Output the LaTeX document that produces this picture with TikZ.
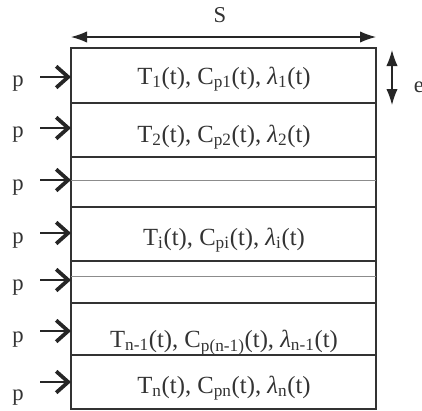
\documentclass[tikz,border=0pt]{standalone}
\usepackage{fontspec}
\setmainfont{Liberation Serif}
\usetikzlibrary{arrows.meta}
\tikzset{
  wall/.style={draw=black!80, line width=1pt},
  midline/.style={draw=black!45, line width=0.7pt},
  txt/.style={anchor=base, inner sep=0pt, text=black!80, font=\fontsize{18.5}{22}\selectfont},
  plbl/.style={anchor=base, inner sep=0pt, text=black!80, font=\fontsize{17}{20}\selectfont},
  parr/.style={draw=black!85, line width=0.9pt, -{Straight Barb[length=9pt, width=16pt, line width=2.8pt]}},
  dimarr/.style={draw=black!85, line width=0.9pt, {Latex[length=12pt, width=8.5pt]}-{Latex[length=12pt, width=8.5pt]}}
}
\begin{document}
\begin{tikzpicture}[x=0.75pt, y=-0.75pt]
\useasboundingbox (0,0) rectangle (422,411);
\draw[wall] (71,48) rectangle (376,409);
\foreach \y in {103,157,207,261,303,355} \draw[wall] (71,\y) -- (376,\y);
\foreach \y in {180,276} \draw[midline] (71,\y) -- (376,\y);
\node[txt] (t1) at (224,84) {T\textsubscript{1}(t), C\textsubscript{p1}(t), {\itshape λ}\textsubscript{1}(t)};
\node[txt] (t2) at (224,142) {T\textsubscript{2}(t), C\textsubscript{p2}(t), {\itshape λ}\textsubscript{2}(t)};
\node[txt] (ti) at (224,245) {T\textsubscript{i}(t), C\textsubscript{pi}(t), {\itshape λ}\textsubscript{i}(t)};
\node[txt] (tn1) at (224,347) {T\textsubscript{n-1}(t), C\textsubscript{p(n-1)}(t), {\itshape λ}\textsubscript{n-1}(t)};
\node[txt] (tn) at (224,393) {T\textsubscript{n}(t), C\textsubscript{pn}(t), {\itshape λ}\textsubscript{n}(t)};
\coordinate (sl) at (71,37);
\coordinate (sr) at (376,37);
\draw[dimarr] (sl) -- (sr);
\node[plbl] (S) at (220,22) {S};
\coordinate (et) at (392,50);
\coordinate (eb) at (392,105);
\draw[dimarr] (et) -- (eb);
\node[plbl] (e) at (419,92) {e};
\foreach \a/\b [count=\i] in {77/86,128/137,180/190,233/243,280/290,331/342,382/400} {
  \node[plbl] (p\i) at (18,\b) {p};
  \coordinate (s\i) at (40,\a);
  \coordinate (h\i) at (71,\a);
  \draw[parr] (s\i) -- (h\i);
}
\end{tikzpicture}
\end{document}
